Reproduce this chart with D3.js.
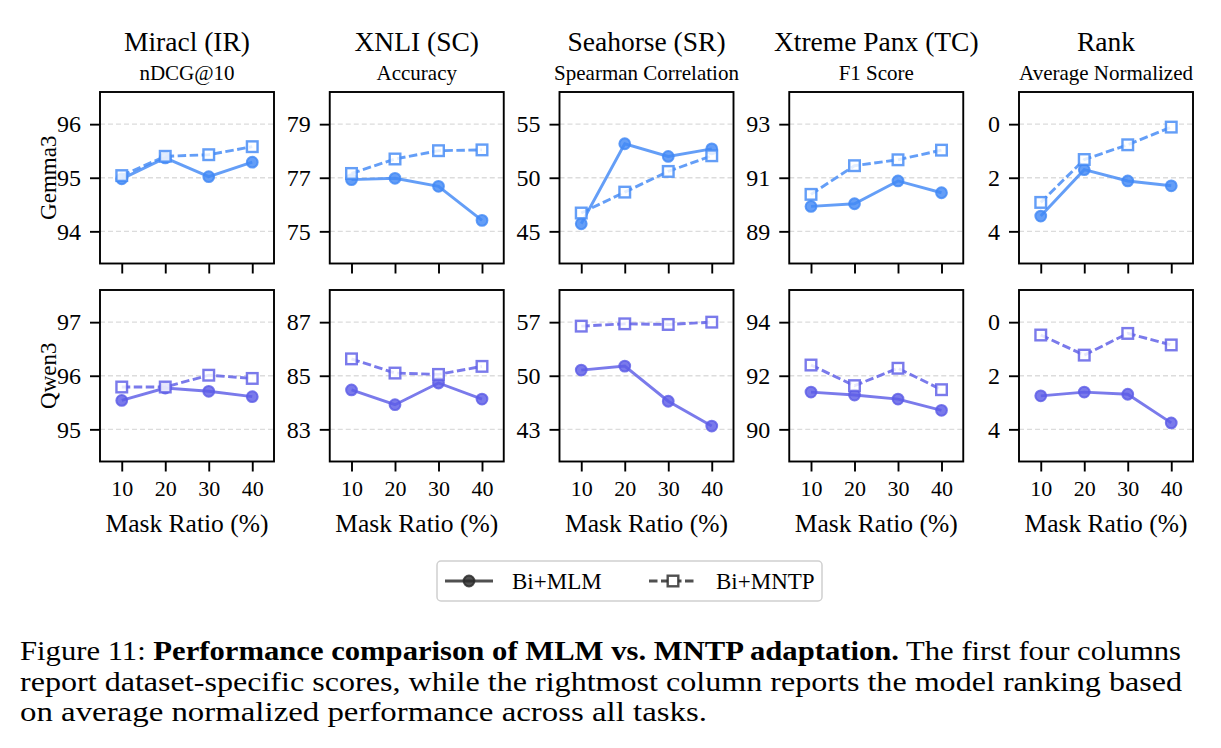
<!DOCTYPE html>
<html>
<head>
<meta charset="utf-8">
<script src="https://cdn.jsdelivr.net/npm/d3@7"></script>
<style>
  body { margin: 0; background: #fff; }
  svg text { font-family: "Liberation Serif", "Times New Roman", serif; fill: #000; }
</style>
</head>
<body>
<svg id="chart" width="1221" height="748"></svg>
<script>
// Data
const tasks = ["Miracl (IR)", "XNLI (SC)", "Seahorse (SR)", "Xtreme Panx (TC)", "Rank"];
const metrics = ["nDCG@10", "Accuracy", "Spearman Correlation", "F1 Score", "Average Normalized"];
const models = ["Gemma3", "Qwen3"];
const maskRatios = [10, 20, 30, 40];
const seriesNames = ["Bi+MLM", "Bi+MNTP"];

const gemmaMLM = [
  [94.98, 95.37, 95.02, 95.29],
  [76.93, 76.98, 76.68, 75.41],
  [45.71, 53.17, 51.99, 52.70],
  [89.93, 90.03, 90.88, 90.44],
  [3.43, 1.70, 2.12, 2.30]
];
const gemmaMNTP = [
  [95.04, 95.40, 95.43, 95.58],
  [77.16, 77.70, 78.01, 78.04],
  [46.71, 48.66, 50.59, 52.05],
  [90.38, 91.45, 91.67, 92.03],
  [2.92, 1.32, 0.77, 0.11]
];
const qwenMLM = [
  [95.54, 95.77, 95.71, 95.61],
  [84.47, 83.92, 84.73, 84.13],
  [50.74, 51.26, 46.67, 43.43],
  [91.39, 91.28, 91.13, 90.71],
  [2.75, 2.61, 2.69, 3.76]
];
const qwenMNTP = [
  [95.79, 95.79, 96.01, 95.95],
  [85.63, 85.10, 85.05, 85.35],
  [56.48, 56.78, 56.70, 57.00],
  [92.40, 91.63, 92.28, 91.48],
  [0.48, 1.23, 0.42, 0.85]
];

const gemmaTicks = [[94, 95, 96], [75, 77, 79], [45, 50, 55], [89, 91, 93], [0, 2, 4]];
const qwenTicks = [[95, 96, 97], [83, 85, 87], [43, 50, 57], [90, 92, 94], [0, 2, 4]];

// Layout
const PANEL_W = 174;
const PANEL_H = 171.5;
const PANEL_X0 = 100;
const PANEL_DX = 229.75;
const ROW_Y = [92, 290];
const ROW_COLORS = ["#4289f5", "#5d5de6"];
const ALPHA = 0.82;

const svg = d3.select('#chart');
const x = d3.scaleLinear().domain([5, 45]).range([0, PANEL_W]);

function drawSeries(g, values, y, color, dashed) {
  const line = d3.line()
    .x((d, i) => x(maskRatios[i]))
    .y(d => y(d));

  const s = g.append('g');
  s.append('path')
    .datum(values)
    .attr('d', line)
    .attr('fill', 'none')
    .attr('stroke', color)
    .attr('stroke-opacity', ALPHA)
    .attr('stroke-width', 2.9)
    .attr('stroke-dasharray', dashed ? '8.5,3.5' : null);

  if (dashed) {
    s.selectAll('rect').data(values).join('rect')
      .attr('x', (d, i) => x(maskRatios[i]) - 5.3)
      .attr('y', d => y(d) - 5.3)
      .attr('width', 10.6)
      .attr('height', 10.6)
      .attr('fill', '#fff')
      .attr('fill-opacity', ALPHA)
      .attr('stroke', color)
      .attr('stroke-opacity', ALPHA)
      .attr('stroke-width', 2.4);
  } else {
    s.selectAll('circle').data(values).join('circle')
      .attr('cx', (d, i) => x(maskRatios[i]))
      .attr('cy', d => y(d))
      .attr('r', 5.4)
      .attr('fill', color)
      .attr('fill-opacity', ALPHA)
      .attr('stroke', color)
      .attr('stroke-opacity', ALPHA)
      .attr('stroke-width', 2);
  }
}

function styleAxis(a, size) {
  a.select('.domain').remove();
  a.attr('font-family', null).attr('font-size', null);
  a.selectAll('.tick line').attr('stroke', '#000').attr('stroke-width', 1.9);
  a.selectAll('.tick text').style('font-size', size + 'px');
}

models.forEach((model, r) => {
  const mlm = r === 0 ? gemmaMLM : qwenMLM;
  const mntp = r === 0 ? gemmaMNTP : qwenMNTP;
  const tickSets = r === 0 ? gemmaTicks : qwenTicks;
  const color = ROW_COLORS[r];

  tasks.forEach((task, c) => {
    const g = svg.append('g')
      .attr('transform', `translate(${PANEL_X0 + c * PANEL_DX},${ROW_Y[r]})`);

    const ticks = tickSets[c];
    const step = ticks[1] - ticks[0];
    const lo = ticks[0] - 0.6 * step;
    const hi = ticks[ticks.length - 1] + 0.6 * step;
    // rank axis is inverted (best rank on top)
    const y = d3.scaleLinear().domain([lo, hi])
      .range(c === 4 ? [0, PANEL_H] : [PANEL_H, 0]);

    // grid
    g.selectAll('.grid').data(ticks).join('line')
      .attr('class', 'grid')
      .attr('x1', 0).attr('x2', PANEL_W)
      .attr('y1', d => y(d)).attr('y2', d => y(d))
      .attr('stroke', '#dcdcdc')
      .attr('stroke-width', 1.3)
      .attr('stroke-dasharray', '5,3');

    drawSeries(g, mlm[c], y, color, false);
    drawSeries(g, mntp[c], y, color, true);

    // frame
    g.append('rect')
      .attr('width', PANEL_W).attr('height', PANEL_H)
      .attr('fill', 'none').attr('stroke', '#000').attr('stroke-width', 1.9);

    // axes
    const ay = g.append('g')
      .call(d3.axisLeft(y).tickValues(ticks).tickSize(10).tickPadding(9).tickFormat(d3.format('d')));
    styleAxis(ay, 24);

    const ax = g.append('g')
      .attr('transform', `translate(0,${PANEL_H})`)
      .call(d3.axisBottom(x).tickValues(maskRatios).tickSize(10).tickPadding(9)
        .tickFormat(r === 1 ? d3.format('d') : ''));
    styleAxis(ax, 22);

    if (r === 0) {
      g.append('text')
        .attr('x', PANEL_W / 2).attr('y', -41)
        .attr('text-anchor', 'middle')
        .style('font-size', '27.5px')
        .text(task);
      g.append('text')
        .attr('x', PANEL_W / 2).attr('y', -12)
        .attr('text-anchor', 'middle')
        .style('font-size', '21px')
        .text(metrics[c]);
    } else {
      g.append('text')
        .attr('x', PANEL_W / 2).attr('y', PANEL_H + 70)
        .attr('text-anchor', 'middle')
        .style('font-size', '25.5px')
        .text('Mask Ratio (%)');
    }

    if (c === 0) {
      g.append('text')
        .attr('transform', `translate(-44,${PANEL_H / 2}) rotate(-90)`)
        .attr('text-anchor', 'middle')
        .style('font-size', '23px')
        .text(model);
    }
  });
});

// Legend
const legend = svg.append('g').attr('transform', 'translate(437,561)');
legend.append('rect')
  .attr('width', 385).attr('height', 40).attr('rx', 4)
  .attr('fill', '#fff').attr('stroke', '#d0d0d0').attr('stroke-width', 1.5);

const legendColor = '#2a2a2a';
seriesNames.forEach((name, i) => {
  const lx = i === 0 ? 8 : 212;
  const item = legend.append('g').attr('transform', `translate(${lx},20)`);
  item.append('line')
    .attr('x1', 0).attr('x2', 48)
    .attr('stroke', legendColor).attr('stroke-opacity', ALPHA).attr('stroke-width', 2.9)
    .attr('stroke-dasharray', i === 1 ? '8.5,3.5' : null);
  if (i === 0) {
    item.append('circle').attr('cx', 24).attr('r', 5.4)
      .attr('fill', legendColor).attr('fill-opacity', ALPHA)
      .attr('stroke', legendColor).attr('stroke-opacity', ALPHA).attr('stroke-width', 2);
  } else {
    item.append('rect').attr('x', 18.7).attr('y', -5.3).attr('width', 10.6).attr('height', 10.6)
      .attr('fill', '#fff').attr('stroke', legendColor).attr('stroke-opacity', ALPHA).attr('stroke-width', 2.4);
  }
  item.append('text')
    .attr('x', 67).attr('y', 8)
    .style('font-size', '23px')
    .text(name);
});

// Caption (first two lines justified like the source paragraph)
const captionLines = [
  [["Figure 11: ", false], ["Performance comparison of MLM vs. MNTP adaptation.", true], [" The first four columns", false]],
  [["report dataset-specific scores, while the rightmost column reports the model ranking based", false]],
  [["on average normalized performance across all tasks.", false]]
];
const captionWidths = [1161, 1162, 687];
const CAP_X = 20, CAP_Y0 = 660, CAP_DY = 30.5;

captionLines.forEach((parts, i) => {
  const t = svg.append('text')
    .attr('x', CAP_X).attr('y', CAP_Y0 + i * CAP_DY)
    .style('font-size', '27px')
    .attr('textLength', captionWidths[i])
    .attr('lengthAdjust', 'spacingAndGlyphs');
  parts.forEach(([s, bold]) => {
    t.append('tspan').attr('font-weight', bold ? 'bold' : null).text(s);
  });
});
</script>
</body>
</html>
